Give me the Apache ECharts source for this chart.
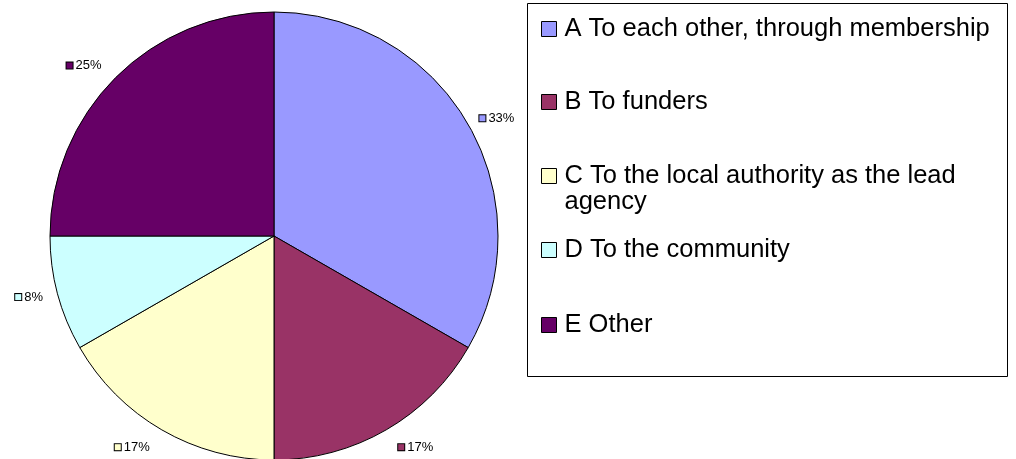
<!DOCTYPE html>
<html><head><meta charset="utf-8">
<script src="https://cdn.jsdelivr.net/npm/echarts@6/dist/echarts.min.js"></script>
<style>html,body{margin:0;padding:0;background:#fff}#c{width:1016px;height:459px}</style>
</head><body><div id="c"></div>
<script>
const categories = ['A To each other, through membership','B To funders','C To the local authority as the lead agency','D To the community','E Other'];
const legendLabels = ['A To each other, through membership','B To funders','\nC To the local authority as the lead\nagency','D To the community','E Other'];
const values = [33.3, 16.7, 16.7, 8.3, 25];
const colors = ['#9999FF','#993366','#FFFFCC','#CCFFFF','#660066'];
const legendCenters = [29, 102, 176, 250, 325];
const labelLineLengths = [11, 20, 20, 13, 17];

const FONT = "'Liberation Sans', Arial, sans-serif";
const rich = { t: { fontSize: 13, fontFamily: FONT, color: '#000', padding: [0,0,0,3] } };
colors.forEach((c, i) => {
  rich['m' + i] = { width: 6, height: 6, backgroundColor: c, borderColor: '#000', borderWidth: 1 };
});

const legends = categories.map((name, i) => ({
  data: [name],
  orient: 'vertical',
  left: 541,
  top: i === 2 ? legendCenters[i] - 39 : legendCenters[i] - 13,
  padding: 0,
  itemWidth: 15,
  itemHeight: 15,
  icon: 'rect',
  selectedMode: false,
  itemStyle: { borderColor: '#000', borderWidth: 1 },
  formatter: () => legendLabels[i],
  textStyle: { fontSize: 25.5, fontFamily: FONT, color: '#000', lineHeight: 26,
               padding: [0, 0, 0, 3] }
}));

const chart = echarts.init(document.getElementById('c'), null, { renderer: 'canvas' });
chart.setOption({
  backgroundColor: '#fff',
  animation: false,
  legend: legends,
  graphic: [{
    type: 'rect', z: -1,
    shape: { x: 527.5, y: 3.5, width: 480, height: 373 },
    style: { fill: 'none', stroke: '#000', lineWidth: 1 }
  }],
  series: [{
    type: 'pie',
    center: [274, 236],
    radius: 224,
    startAngle: 90,
    clockwise: true,
    avoidLabelOverlap: false,
    percentPrecision: 0,
    emphasis: { disabled: true },
    itemStyle: { borderColor: '#000', borderWidth: 1 },
    label: {
      show: true,
      position: 'outside',
      distanceToLabelLine: 2,
      formatter: p => `{m${p.dataIndex}|}{t|${p.percent}%}`,
      rich: rich
    },
    labelLine: { show: false, length: 13, length2: 0 },
    data: categories.map((n, i) => ({
      name: n, value: values[i],
      itemStyle: { color: colors[i] },
      labelLine: { show: false, length: labelLineLengths[i], length2: 0 }
    }))
  }]
});
</script>
</body></html>
